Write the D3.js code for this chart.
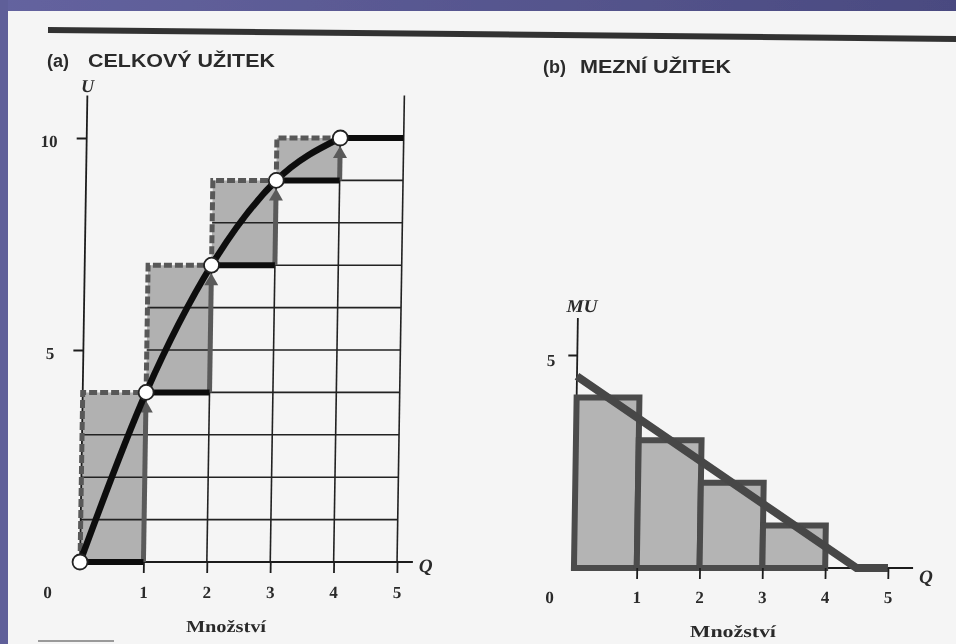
<!DOCTYPE html>
<html><head><meta charset="utf-8">
<script src="https://cdn.jsdelivr.net/npm/d3@7"></script>
<style>html,body{margin:0;padding:0;background:#f6f6f6;} svg{display:block}</style>
</head><body>
<svg id="chart" width="956" height="644"></svg>
<script>
// ---- data ----
const quantities = [0, 1, 2, 3, 4, 5];
const totalUtility = [0, 4, 7, 9, 10, 10];
const marginalUtility = [4, 3, 2, 1, 0];      // MU of the 1st..5th unit
const muLineQ = [0, 4.5, 5];
const muLineV = [4.5, 0, 0];
const xTickValues = [1, 2, 3, 4, 5];
const uTicks = [5, 10];
const muTicks = [5];
const titleA = ["(a)", "CELKOVÝ UŽITEK"];
const titleB = ["(b)", "MEZNÍ UŽITEK"];
const xAxisTitle = "Množství";

const svg = d3.select("#chart");
const defs = svg.append("defs");
const grad = defs.append("linearGradient").attr("id", "border").attr("x1", 0).attr("x2", 1);
grad.append("stop").attr("offset", 0).attr("stop-color", "#64639f");
grad.append("stop").attr("offset", 1).attr("stop-color", "#4a4a80");
const blur = defs.append("filter").attr("id", "soft");
blur.append("feGaussianBlur").attr("stdDeviation", 0.5);

const root = svg.append("g").attr("filter", "url(#soft)");
root.append("rect").attr("width", 956).attr("height", 644).attr("fill", "#f5f5f5");
root.append("rect").attr("width", 956).attr("height", 11).attr("fill", "url(#border)");
root.append("rect").attr("width", 8).attr("height", 644).attr("fill", "#5f5e99");
// top rule of the page
root.append("line").attr("x1", 48).attr("y1", 30).attr("x2", 956).attr("y2", 39)
  .attr("stroke", "#333").attr("stroke-width", 6);
root.append("line").attr("x1", 38).attr("y1", 641).attr("x2", 114).attr("y2", 641)
  .attr("stroke", "#9a9a9a").attr("stroke-width", 2);

// titles
function title(parts, x1, x2, y, len) {
  root.append("text").attr("x", x1).attr("y", y).text(parts[0])
    .attr("font-family", "Liberation Sans, Arial, sans-serif").attr("font-weight", "bold")
    .attr("font-size", 18).attr("fill", "#2b2b2b");
  root.append("text").attr("x", x2).attr("y", y).text(parts[1])
    .attr("font-family", "Liberation Sans, Arial, sans-serif").attr("font-weight", "bold")
    .attr("font-size", 19).attr("fill", "#2b2b2b")
    .attr("textLength", len).attr("lengthAdjust", "spacingAndGlyphs");
}
title(titleA, 47, 88, 67, 187);
title(titleB, 543, 580, 73, 151);

const g = root.append("g").attr("transform", "translate(0,565) skewX(-0.9) translate(0,-565)");
const serif = "Liberation Serif, Times New Roman, serif";
const ink = "#1e1e1e";
const numInk = "#2a2a2a";

// ================= Panel A =================
const xA = d3.scaleLinear().domain([0, 5]).range([80, 397]);
const yA = d3.scaleLinear().domain([0, 10]).range([562, 138]);
const steps = d3.range(4);

// shaded boxes
g.selectAll(".boxA").data(steps).join("rect")
  .attr("x", i => xA(quantities[i])).attr("y", i => yA(totalUtility[i + 1]))
  .attr("width", i => xA(quantities[i + 1]) - xA(quantities[i]))
  .attr("height", i => yA(totalUtility[i]) - yA(totalUtility[i + 1]))
  .attr("fill", "#b1b1b1");

// grid: horizontal lines
const hLevels = d3.range(1, 10);
g.selectAll(".hgrid").data(hLevels).join("line")
  .attr("x1", u => xA(d3.max(quantities.filter(q => totalUtility[q] <= u))))
  .attr("x2", xA(5))
  .attr("y1", u => yA(u)).attr("y2", u => yA(u))
  .attr("stroke", "#222").attr("stroke-width", 1.6);
// grid: vertical lines
g.selectAll(".vgrid").data([1, 2, 3, 4]).join("line")
  .attr("x1", q => xA(q)).attr("x2", q => xA(q))
  .attr("y1", yA(0)).attr("y2", q => yA(totalUtility[q]))
  .attr("stroke", "#222").attr("stroke-width", 1.6);
g.append("line").attr("x1", xA(5)).attr("x2", xA(5)).attr("y1", yA(0)).attr("y2", yA(11))
  .attr("stroke", "#222").attr("stroke-width", 1.6);

// axes lines
g.append("line").attr("x1", xA(0)).attr("x2", xA(0)).attr("y1", yA(0)).attr("y2", yA(11))
  .attr("stroke", ink).attr("stroke-width", 1.8);
g.append("line").attr("x1", xA(0)).attr("x2", xA(5.25)).attr("y1", yA(0)).attr("y2", yA(0))
  .attr("stroke", ink).attr("stroke-width", 1.8);

// dashed outlines of increments
g.selectAll(".dashA").data(steps).join("path")
  .attr("d", i => `M${xA(quantities[i])},${yA(totalUtility[i])}V${yA(totalUtility[i + 1])}H${xA(quantities[i + 1])}`)
  .attr("fill", "none").attr("stroke", "#585858").attr("stroke-width", 5)
  .attr("stroke-dasharray", "8,3");

// arrows
steps.forEach(i => {
  const x = xA(quantities[i + 1]);
  const tip = yA(totalUtility[i + 1]) + 8;
  g.append("line").attr("x1", x).attr("x2", x).attr("y1", yA(totalUtility[i])).attr("y2", tip + 10)
    .attr("stroke", "#5a5a5a").attr("stroke-width", 5);
  g.append("path").attr("d", `M${x},${tip}L${x - 7},${tip + 12}L${x + 7},${tip + 12}Z`)
    .attr("fill", "#5a5a5a");
});

// thick black steps
g.selectAll(".stepA").data(d3.range(5)).join("line")
  .attr("x1", i => xA(quantities[i])).attr("x2", i => xA(quantities[i + 1]))
  .attr("y1", i => yA(totalUtility[i])).attr("y2", i => yA(totalUtility[i]))
  .attr("stroke", "#111").attr("stroke-width", 6);

// total utility curve
const curvePts = d3.range(5).map(i => [quantities[i], totalUtility[i]]);
g.append("path").datum(curvePts)
  .attr("d", d3.line().x(d => xA(d[0])).y(d => yA(d[1])).curve(d3.curveMonotoneX))
  .attr("fill", "none").attr("stroke", "#111").attr("stroke-width", 6.5);
g.selectAll(".ptA").data(curvePts).join("circle")
  .attr("cx", d => xA(d[0])).attr("cy", d => yA(d[1])).attr("r", 7.5)
  .attr("fill", "#fff").attr("stroke", "#222").attr("stroke-width", 1.8);

// ticks & labels
const axA_y = g.append("g").attr("transform", `translate(${xA(0)},0)`)
  .call(d3.axisLeft(yA).tickValues(uTicks).tickSize(10).tickPadding(19).tickFormat(d3.format("d")));
const axA_x = g.append("g").attr("transform", `translate(0,${yA(0)})`)
  .call(d3.axisBottom(xA).tickValues(xTickValues).tickSize(11).tickPadding(13).tickFormat(d3.format("d")));
[axA_y, axA_x].forEach(a => {
  a.select(".domain").remove();
  a.selectAll("line").attr("stroke", ink).attr("stroke-width", 1.8);
  a.selectAll("text").attr("font-family", serif).attr("font-size", 17).attr("font-weight", "bold").attr("fill", numInk);
});
axA_y.selectAll("text").attr("dy", "0.5em");
g.append("text").attr("x", xA(0) - 32).attr("y", 598).attr("text-anchor", "middle")
  .text("0").attr("font-family", serif).attr("font-size", 17).attr("font-weight", "bold").attr("fill", numInk);
g.append("text").attr("x", xA(0)).attr("y", 92).attr("text-anchor", "middle").text("U")
  .attr("font-family", serif).attr("font-style", "italic").attr("font-weight", "bold").attr("font-size", 18).attr("fill", numInk);
g.append("text").attr("x", xA(5.25) + 13).attr("y", 572).attr("text-anchor", "middle").text("Q")
  .attr("font-family", serif).attr("font-style", "italic").attr("font-weight", "bold").attr("font-size", 19).attr("fill", numInk);
g.append("text").attr("x", 227).attr("y", 632).attr("text-anchor", "middle").text(xAxisTitle)
  .attr("font-family", serif).attr("font-size", 17).attr("font-weight", "bold").attr("fill", numInk)
  .attr("textLength", 80).attr("lengthAdjust", "spacingAndGlyphs");

// ================= Panel B =================
const xB = d3.scaleLinear().domain([0, 5]).range([574, 888]);
const yB = d3.scaleLinear().domain([0, 5]).range([568, 355]);

g.append("line").attr("x1", xB(0)).attr("x2", xB(0)).attr("y1", yB(0)).attr("y2", yB(5.87))
  .attr("stroke", ink).attr("stroke-width", 1.8);
g.append("line").attr("x1", xB(0)).attr("x2", xB(5.4)).attr("y1", yB(0)).attr("y2", yB(0))
  .attr("stroke", ink).attr("stroke-width", 1.8);

g.selectAll(".barB").data(marginalUtility).join("rect")
  .attr("x", (d, i) => xB(quantities[i])).attr("y", d => yB(d))
  .attr("width", (d, i) => xB(quantities[i + 1]) - xB(quantities[i]))
  .attr("height", d => yB(0) - yB(d))
  .attr("fill", "#b4b4b4").attr("stroke", "#4b4b4b").attr("stroke-width", 6);

g.append("path").datum(muLineQ.map((q, i) => [q, muLineV[i]]))
  .attr("d", d3.line().x(d => xB(d[0])).y(d => yB(d[1])))
  .attr("fill", "none").attr("stroke", "#474747").attr("stroke-width", 8);

const axB_y = g.append("g").attr("transform", `translate(${xB(0)},0)`)
  .call(d3.axisLeft(yB).tickValues(muTicks).tickSize(9).tickPadding(13).tickFormat(d3.format("d")));
const axB_x = g.append("g").attr("transform", `translate(0,${yB(0)})`)
  .call(d3.axisBottom(xB).tickValues(xTickValues).tickSize(11).tickPadding(12).tickFormat(d3.format("d")));
[axB_y, axB_x].forEach(a => {
  a.select(".domain").remove();
  a.selectAll("line").attr("stroke", ink).attr("stroke-width", 1.8);
  a.selectAll("text").attr("font-family", serif).attr("font-size", 17).attr("font-weight", "bold").attr("fill", numInk);
});
axB_y.selectAll("text").attr("dy", "0.6em");
g.append("text").attr("x", xB(0) - 24).attr("y", 603).attr("text-anchor", "middle")
  .text("0").attr("font-family", serif).attr("font-size", 17).attr("font-weight", "bold").attr("fill", numInk);
g.append("text").attr("x", xB(0) + 4).attr("y", 312).attr("text-anchor", "middle").text("MU")
  .attr("font-family", serif).attr("font-style", "italic").attr("font-weight", "bold").attr("font-size", 18).attr("fill", numInk)
  .attr("textLength", 31).attr("lengthAdjust", "spacingAndGlyphs");
g.append("text").attr("x", xB(5.4) + 13).attr("y", 583).attr("text-anchor", "middle").text("Q")
  .attr("font-family", serif).attr("font-style", "italic").attr("font-weight", "bold").attr("font-size", 19).attr("fill", numInk);
g.append("text").attr("x", 734).attr("y", 637).attr("text-anchor", "middle").text(xAxisTitle)
  .attr("font-family", serif).attr("font-size", 17).attr("font-weight", "bold").attr("fill", numInk)
  .attr("textLength", 86).attr("lengthAdjust", "spacingAndGlyphs");
</script>
</body></html>
